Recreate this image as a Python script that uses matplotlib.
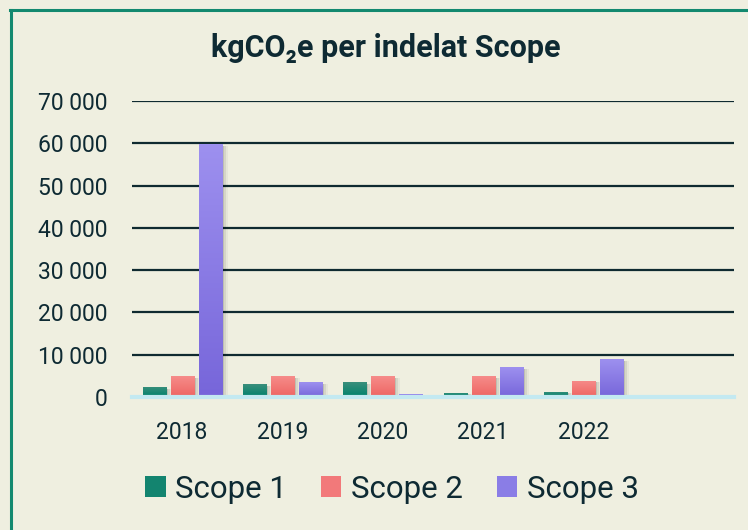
import matplotlib
matplotlib.use("Agg")
import matplotlib.pyplot as plt
import numpy as np
from matplotlib.colors import LinearSegmentedColormap
from matplotlib.patches import Patch
from matplotlib.lines import Line2D

plt.rcParams['font.family'] = ['Roboto', 'DejaVu Sans']

years = ["2018", "2019", "2020", "2021", "2022"]
series_names = ["Scope 1", "Scope 2", "Scope 3"]
scope1 = [2400, 3000, 3500, 1000, 1300]
scope2 = [4900, 4900, 4900, 4900, 3900]
scope3 = [59800, 3500, 600, 7000, 8900]
yticks = [0, 10000, 20000, 30000, 40000, 50000, 60000, 70000]
ytick_labels = ["0", "10 000", "20 000", "30 000", "40 000", "50 000", "60 000", "70 000"]

colors_top = ["#3a8f7c", "#f68c8a", "#9d90ef"]
colors_bot = ["#00816b", "#ee6562", "#7766da"]
legend_colors = ["#13846f", "#f2797a", "#8a7de6"]

bg = "#efefe0"
text_c = "#0e2a33"

fig = plt.figure(figsize=(7.48, 5.30), dpi=100, facecolor=bg)
ax = fig.add_axes([132/748, 1-397/530, (734-132)/748, (397-101)/530])
ax.set_facecolor(bg)

data = [scope1, scope2, scope3]
x = np.arange(len(years))
width = 0.23
offsets = [-0.28, 0.0, 0.28]

for i, vals in enumerate(data):
    xs = x + offsets[i]
    # soft shadows
    for k, a in enumerate([0.10, 0.07, 0.04]):
        ax.bar(xs + 0.02 + 0.02*k, vals, width, bottom=-400, color="#000000",
               alpha=a, zorder=2, linewidth=0)
    bars = ax.bar(xs, vals, width, color=colors_bot[i], zorder=3, linewidth=0)
    cmap = LinearSegmentedColormap.from_list("g%d" % i, [colors_bot[i], colors_top[i]])
    grad = np.linspace(0, 1, 100).reshape(-1, 1)
    for b in bars:
        x0, y0 = b.get_x(), b.get_y()
        w, h = b.get_width(), b.get_height()
        im = ax.imshow(grad, cmap=cmap, origin="lower", aspect="auto",
                       extent=[x0, x0 + w, y0, y0 + h], zorder=3.5)
        im.set_clip_path(b)

ax.set_xlim(-0.5, 5.5)
ax.set_ylim(0, 70000)
ax.set_yticks(yticks)
ax.set_yticklabels(ytick_labels)
ax.set_xticks(x)
ax.set_xticklabels(years)

for yv in yticks[1:]:
    ax.axhline(yv, color="#0f2a30", linewidth=1.6, zorder=1)
ax.axhline(-250, color="#000000", alpha=0.12, linewidth=2.5, zorder=1)
ax.axhline(0, color="#c3e9f1", linewidth=3, zorder=5, clip_on=False)

for s in ax.spines.values():
    s.set_visible(False)
ax.tick_params(axis="both", length=0, colors=text_c, labelsize=16.5)
ax.tick_params(axis="y", pad=18)
ax.tick_params(axis="x", pad=17)

fig.text(386/748, 1-48/530, "kgCO\u2082e per indelat Scope", ha="center", va="center",
         fontsize=22, fontweight="bold", color=text_c)

handles = [Patch(facecolor=c, edgecolor="none") for c in legend_colors]
leg = fig.legend(handles, series_names, loc="center", bbox_to_anchor=(392/748, 1-489/530),
                 ncol=3, frameon=False, fontsize=22.5, handlelength=0.65, handleheight=0.65,
                 handletextpad=0.3, columnspacing=1.1, labelcolor=text_c)

# outer border
fig.add_artist(Line2D([11/748, 11/748], [0, 1-10/530], transform=fig.transFigure,
                      color="#13896f", linewidth=2.2))
fig.add_artist(Line2D([10.3/748, 1], [1-10/530, 1-10/530], transform=fig.transFigure,
                      color="#13896f", linewidth=2.2))

fig.savefig("out.png", dpi=100, facecolor=bg)
